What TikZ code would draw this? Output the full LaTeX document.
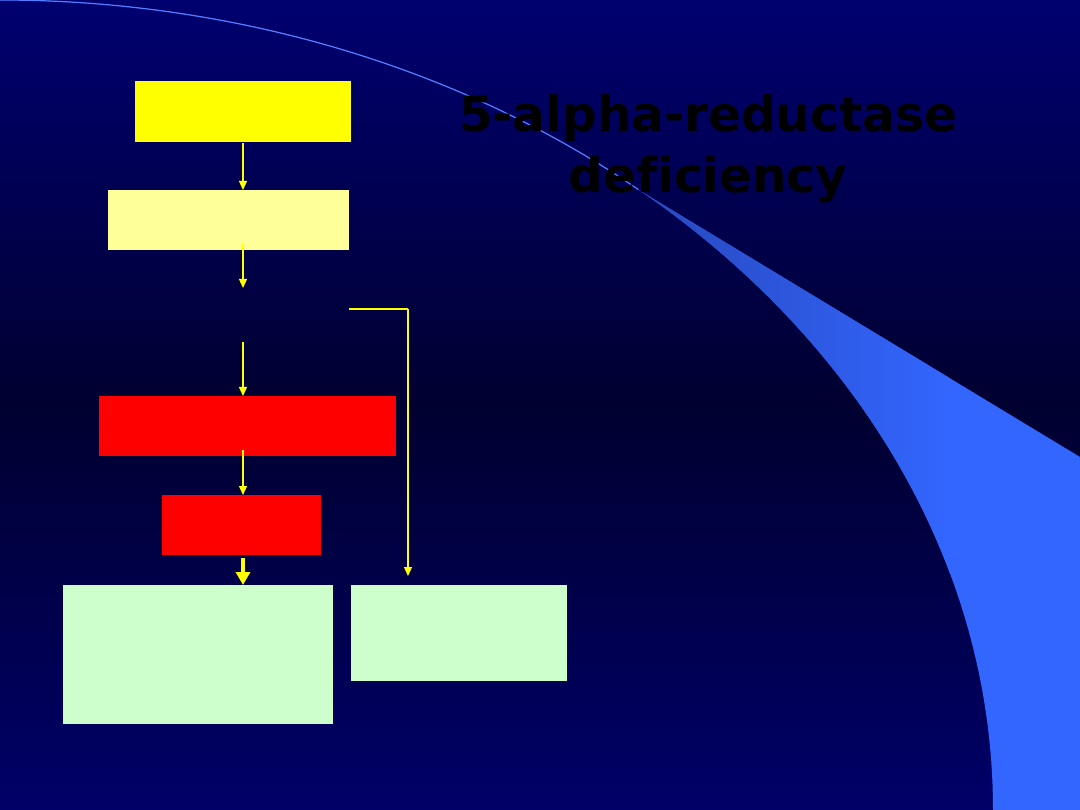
\documentclass[tikz,border=0pt]{standalone}
\usepackage{fontspec}
\setmainfont{Liberation Sans}
\newfontfamily\titlefont{DejaVu Sans}[Ligatures=NoCommon]
\usetikzlibrary{arrows.meta}
\definecolor{bgtop}{RGB}{0,0,112}
\definecolor{bgmid}{RGB}{0,0,48}
\definecolor{bgbot}{RGB}{0,0,104}
\definecolor{swdark}{RGB}{38,70,185}
\definecolor{swbright}{RGB}{51,102,255}
\definecolor{pyellow}{RGB}{255,255,0}
\definecolor{pred}{RGB}{255,0,0}
\definecolor{lyellow}{RGB}{255,255,153}
\definecolor{lgreen}{RGB}{204,255,204}
\tikzset{
  box/.style={draw=none, inner sep=0pt, outer sep=0pt},
  flow/.style={draw=pyellow, line width=1.2pt, -{Triangle[width=8pt,length=9pt]}},
  bigflow/.style={draw=pyellow, line width=4pt, -{Triangle[width=14pt,length=13pt]}},
  plainline/.style={draw=pyellow, line width=1.2pt},
  titletext/.style={font=\titlefont\fontsize{48.5}{62}\selectfont\bfseries, text=black, align=center, inner sep=0pt}
}
\begin{document}
\begin{tikzpicture}[x=1pt,y=1pt]
\useasboundingbox (0,0) rectangle (1080,-810);
% background
\shade[top color=bgtop, bottom color=bgbot, middle color=bgmid] (0,0) rectangle (1080,-810);
% swoosh
\begin{scope}
  \clip (0,0) arc[start angle=90, end angle=49.87, x radius=993, y radius=810]
        -- (1080,-457) -- (1080,-810) -- (993,-810)
        arc[start angle=0, end angle=90, x radius=993, y radius=810] -- cycle;
  \fill[swbright] (0,0) rectangle (1080,-810);
  \shade[left color=swdark, right color=swbright] (620,0) rectangle (950,-810);
  \fill[swdark] (0,0) rectangle (620,-810);
\end{scope}
\draw[swbright!85!white, line width=1.2pt] (0,0) arc[start angle=90, end angle=50, x radius=993, y radius=810];
% title
\node[titletext, anchor=base] (title) at (708,-132) {5-alpha-reductase};
\node[titletext, anchor=base] (title2) at (708,-193) {deficiency};
% boxes
\node[box, fill=pyellow, minimum width=216pt, minimum height=61pt] (yb) at (243,-111.5) {};
\node[box, fill=lyellow, minimum width=241pt, minimum height=60pt] (lyb) at (228.5,-220) {};
\node[box, fill=pred, minimum width=297pt, minimum height=60pt] (rb1) at (247.5,-426) {};
\node[box, fill=pred, minimum width=159pt, minimum height=60pt] (rb2) at (241.5,-525) {};
\node[box, fill=lgreen, minimum width=270pt, minimum height=139pt] (gb1) at (198,-654.5) {};
\node[box, fill=lgreen, minimum width=216pt, minimum height=96pt] (gb2) at (459,-633) {};
% free ends
\coordinate (a2s) at (243,-244);
\coordinate (a2e) at (243,-288);
\coordinate (a3s) at (243,-342);
\coordinate (a4s) at (243,-450);
\coordinate (rs) at (349,-309);
\coordinate (rc) at (408,-309);
\coordinate (re) at (408,-576);
% connectors
\draw[flow] ([yshift=-1pt]yb.south) -- (yb.south |- lyb.north);
\draw[flow] (a2s) -- (a2e);
\draw[flow] (a3s) -- (a3s |- rb1.north);
\draw[flow] (a4s) -- (a4s |- rb2.north);
\draw[bigflow] ([yshift=-3pt]rb2.south -| a4s) -- (a4s |- gb1.north);
\draw[plainline] (rs) -- (rc);
\draw[flow] (rc) -- (re);
\end{tikzpicture}
\end{document}
